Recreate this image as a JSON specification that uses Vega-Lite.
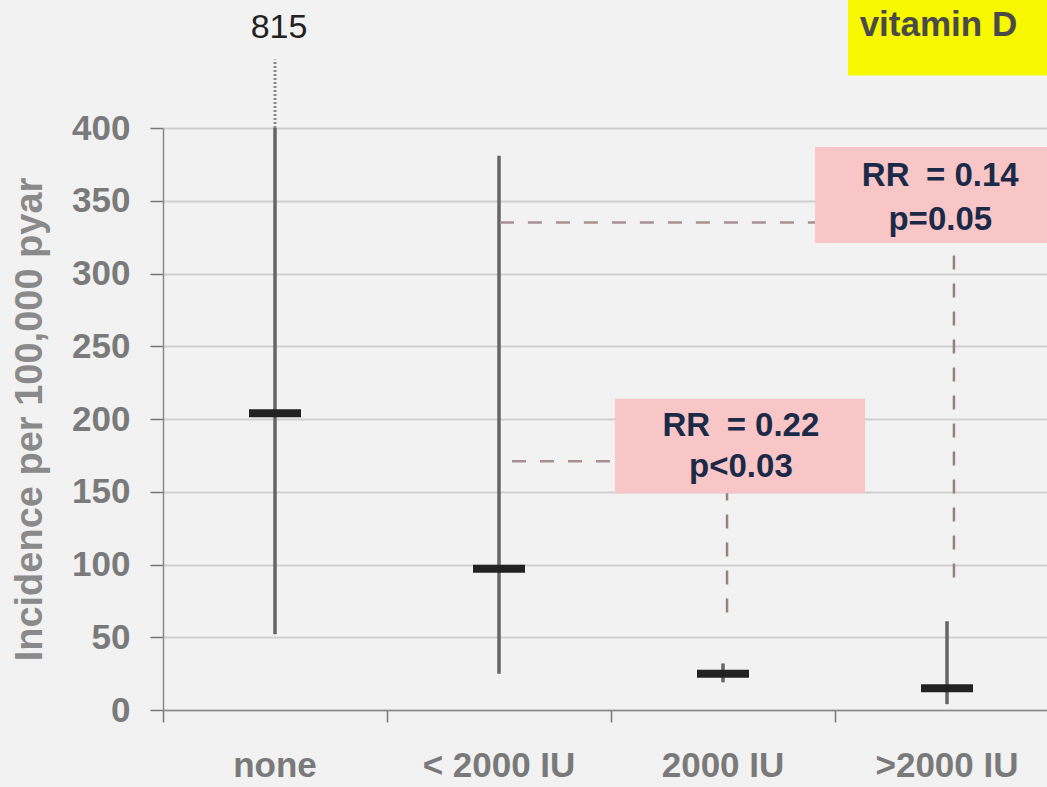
{
  "$schema": "https://vega.github.io/schema/vega-lite/v6.json",
  "autosize": {"type": "none"},
  "padding": {"left": 163, "top": 128, "right": 0, "bottom": 77},
  "width": 896,
  "height": 582,
  "background": "#f2f2f2",
  "config": {"view": {"stroke": null}, "font": "Liberation Sans"},
  "datasets": {
    "groups": [
      {"dose": "none", "est": 204, "low": 52, "high": 815},
      {"dose": "< 2000 IU", "est": 97, "low": 25, "high": 381},
      {"dose": "2000 IU", "est": 25, "low": 19, "high": 32},
      {"dose": ">2000 IU", "est": 15, "low": 4, "high": 61}
    ],
    "breakmark": [{"dose": "none", "from": 400, "to": 447, "label": "815", "labelAt": 469}],
    "pinkBoxes": [
      {"x0": 2.018, "x1": 3.134, "y0": 149, "y1": 214},
      {"x0": 2.911, "x1": 4.05, "y0": 321, "y1": 387}
    ],
    "yellowBox": [{"x0": 3.058, "x1": 4.05, "y0": 436, "y1": 500, "x": 3.11, "y": 471, "t": "vitamin D"}],
    "dashH": [
      {"x0": 1.558, "x1": 2.018, "y": 171},
      {"x0": 1.504, "x1": 2.911, "y": 335}
    ],
    "dashV": [
      {"x": 2.518, "y0": 67, "y1": 149},
      {"x": 3.531, "y0": 91, "y1": 321}
    ],
    "boxText": [
      {"x": 2.58, "y": 195, "t": "RR\u2002= 0.22"},
      {"x": 2.58, "y": 167, "t": "p<0.03"},
      {"x": 3.47, "y": 367, "t": "RR\u2002= 0.14"},
      {"x": 3.47, "y": 337, "t": "p=0.05"}
    ]
  },
  "resolve": {"scale": {"x": "independent"}},
  "layer": [
    {
      "layer": [
        {
          "data": {"name": "groups"},
          "mark": {"type": "rule", "clip": true, "stroke": "#666666", "strokeWidth": 3.5},
          "encoding": {
            "x": {
              "field": "dose", "type": "nominal",
              "sort": ["none", "< 2000 IU", "2000 IU", ">2000 IU"],
              "scale": {"domain": ["none", "< 2000 IU", "2000 IU", ">2000 IU"], "paddingInner": 0, "paddingOuter": 0},
              "axis": {
                "title": null, "bandPosition": 0, "labelAngle": 0,
                "labelFontSize": 35, "labelFontWeight": "bold", "labelColor": "#7a7a7a",
                "labelPadding": 26, "tickSize": 12, "tickColor": "#777777", "tickWidth": 1.5,
                "domainColor": "#8a8a8a", "domainWidth": 1.5, "grid": false
              }
            },
            "y": {
              "field": "low", "type": "quantitative",
              "scale": {"domain": [0, 400], "nice": false},
              "axis": {
                "title": "Incidence per 100,000 pyar",
                "titleFontSize": 38, "titleFontWeight": "bold", "titleColor": "#8a8a8a", "titlePadding": 22,
                "values": [0, 50, 100, 150, 200, 250, 300, 350, 400],
                "labelFontSize": 35, "labelFontWeight": "bold", "labelColor": "#7a7a7a", "labelPadding": 20,
                "tickSize": 13, "tickColor": "#777777", "tickWidth": 1.5,
                "domainColor": "#8a8a8a", "domainWidth": 1.5,
                "gridColor": "#cfcfcf", "gridWidth": 2
              }
            },
            "y2": {"field": "high"}
          }
        },
        {
          "data": {"name": "breakmark"},
          "mark": {"type": "rule", "stroke": "#8a8a8a", "strokeWidth": 3, "strokeDash": [2, 2]},
          "encoding": {
            "x": {"field": "dose", "type": "nominal"},
            "y": {"field": "from", "type": "quantitative"},
            "y2": {"field": "to"}
          }
        },
        {
          "data": {"name": "breakmark"},
          "mark": {"type": "text", "fontSize": 34, "color": "#222222", "baseline": "middle", "dx": 4},
          "encoding": {
            "x": {"field": "dose", "type": "nominal"},
            "y": {"field": "labelAt", "type": "quantitative"},
            "text": {"field": "label"}
          }
        },
        {
          "data": {"name": "groups"},
          "mark": {"type": "tick", "color": "#222222", "size": 52, "thickness": 8, "opacity": 1},
          "encoding": {
            "x": {"field": "dose", "type": "nominal"},
            "y": {"field": "est", "type": "quantitative"}
          }
        }
      ]
    },
    {
      "layer": [
        {
          "data": {"name": "pinkBoxes"},
          "mark": {"type": "rect", "fill": "#f8c6c6"},
          "encoding": {
            "x": {"field": "x0", "type": "quantitative", "scale": {"domain": [0, 4], "nice": false, "zero": false}, "axis": null},
            "x2": {"field": "x1"},
            "y": {"field": "y0", "type": "quantitative"},
            "y2": {"field": "y1"}
          }
        },
        {
          "data": {"name": "yellowBox"},
          "mark": {"type": "rect", "fill": "#f7f700"},
          "encoding": {
            "x": {"field": "x0", "type": "quantitative"},
            "x2": {"field": "x1"},
            "y": {"field": "y0", "type": "quantitative"},
            "y2": {"field": "y1"}
          }
        },
        {
          "data": {"name": "yellowBox"},
          "mark": {"type": "text", "fontSize": 35, "fontWeight": "bold", "color": "#4a4a4a", "align": "left", "baseline": "middle"},
          "encoding": {
            "x": {"field": "x", "type": "quantitative"},
            "y": {"field": "y", "type": "quantitative"},
            "text": {"field": "t"}
          }
        },
        {
          "data": {"name": "dashH"},
          "mark": {"type": "rule", "stroke": "#a89090", "strokeWidth": 2.5, "strokeDash": [14, 14]},
          "encoding": {
            "x": {"field": "x0", "type": "quantitative"},
            "x2": {"field": "x1"},
            "y": {"field": "y", "type": "quantitative"}
          }
        },
        {
          "data": {"name": "dashV"},
          "mark": {"type": "rule", "stroke": "#988080", "strokeWidth": 2.5, "strokeDash": [14, 14]},
          "encoding": {
            "x": {"field": "x", "type": "quantitative"},
            "y": {"field": "y0", "type": "quantitative"},
            "y2": {"field": "y1"}
          }
        },
        {
          "data": {"name": "boxText"},
          "mark": {"type": "text", "fontSize": 33, "fontWeight": "bold", "color": "#1b2a48", "align": "center", "baseline": "middle"},
          "encoding": {
            "x": {"field": "x", "type": "quantitative"},
            "y": {"field": "y", "type": "quantitative"},
            "text": {"field": "t"}
          }
        }
      ]
    }
  ]
}
